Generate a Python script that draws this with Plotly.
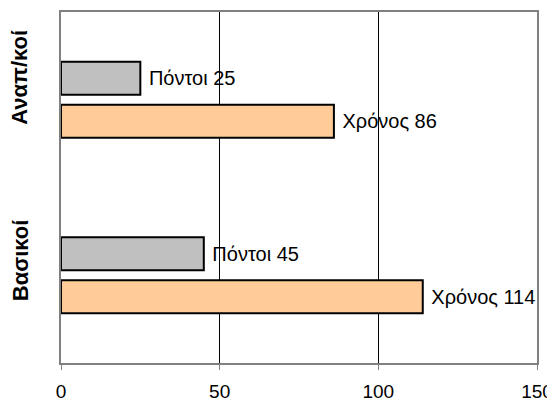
import plotly.graph_objects as go

categories = ["Βασικοί", "Αναπ/κοί"]
time_name = "Χρόνος"
points_name = "Πόντοι"
time_values = [114, 86]
points_values = [45, 25]
x_ticks = [0, 50, 100, 150]
label_shift = [15, 22]  # upward offset of category labels (px)

FONT = "Liberation Sans, Arial, sans-serif"
# page body has an 8px default margin, so the figure is sized/offset for that
W, H = 547, 395
L, R, T, B = 53, 18, 4, 40

fig = go.Figure()
fig.add_trace(go.Bar(
    y=categories, x=time_values, name=time_name, orientation="h",
    marker=dict(color="#FFCC99", line=dict(color="black", width=2)),
    text=[f"\u00a0{time_name} {v}" for v in time_values],
    textposition="outside", constraintext="none", cliponaxis=False,
    textfont=dict(family=FONT, size=20, color="black"),
))
fig.add_trace(go.Bar(
    y=categories, x=points_values, name=points_name, orientation="h",
    marker=dict(color="#C0C0C0", line=dict(color="black", width=2)),
    text=[f"\u00a0{points_name} {v}" for v in points_values],
    textposition="outside", constraintext="none", cliponaxis=False,
    textfont=dict(family=FONT, size=20, color="black"),
))

plot_w = W - L - R
for cat, sh in zip(categories, label_shift):
    fig.add_annotation(
        x=(12 - L) / plot_w, xref="paper", xanchor="center",
        y=cat, yref="y", yanchor="middle", yshift=sh,
        text=f"<b>{cat}</b>", textangle=-90, showarrow=False, borderpad=0,
        font=dict(family=FONT, size=22, color="black"),
    )

fig.update_layout(
    width=W, height=H,
    margin=dict(l=L, r=R, t=T, b=B, autoexpand=False),
    paper_bgcolor="white", plot_bgcolor="white",
    barmode="group", bargap=0.51, bargroupgap=0.233,
    showlegend=False,
    font=dict(family=FONT, size=20, color="black"),
    xaxis=dict(
        range=[0, 150], tickvals=x_ticks, ticktext=[str(t) for t in x_ticks],
        showgrid=True, gridcolor="black", gridwidth=1,
        showline=True, linecolor="#808080", linewidth=2, mirror=True,
        ticks="outside", ticklen=5, tickcolor="#808080", tickwidth=1,
        zeroline=False, ticklabelstandoff=5, automargin=False,
        tickfont=dict(family=FONT, size=19, color="black"),
    ),
    yaxis=dict(
        range=[-0.5, 1.5], showgrid=False, showticklabels=False,
        showline=True, linecolor="#808080", linewidth=2, mirror=True,
        ticks="", zeroline=False, automargin=False,
    ),
)

fig.write_html("out.html")
